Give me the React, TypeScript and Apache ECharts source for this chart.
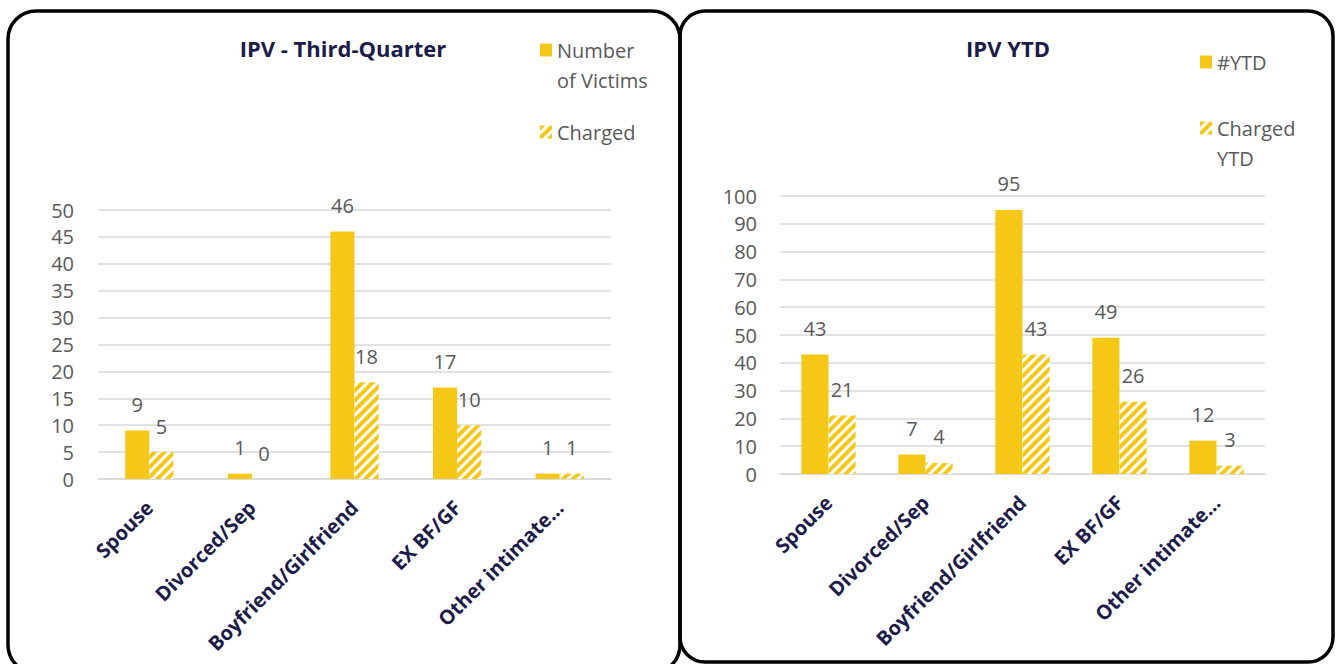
import React, { useEffect, useRef } from "react";
import * as echarts from "echarts";

const categories = ["Spouse", "Divorced/Sep", "Boyfriend/Girlfriend", "EX BF/GF", "Other intimate…"];
const q3Victims = [9, 1, 46, 17, 1];
const q3Charged = [5, 0, 18, 10, 1];
const ytdVictims = [43, 7, 95, 49, 12];
const ytdCharged = [21, 4, 43, 26, 3];

const titles = ["IPV - Third-Quarter", "IPV YTD"];
const seriesNames = ["Number of Victims", "Charged", "#YTD", "Charged YTD"];
const legendLabels: Record<string, string> = {
  "Number of Victims": "\nNumber\nof Victims",
  Charged: "Charged",
  "#YTD": "#YTD",
  "Charged YTD": "\nCharged\nYTD",
};

const YELLOW = "#F5C818";
const NAVY = "#1C1B4A";
const GRAY = "#595959";
const GRID = "#D9D9D9";
const FONT = "Open Sans";

const hatch = {
  symbol: "rect",
  symbolSize: 1,
  color: YELLOW,
  dashArrayX: [1, 0],
  dashArrayY: [4, 3],
  rotation: -Math.PI / 4,
};

function xAxis(gridIndex: number) {
  return {
    type: "category",
    gridIndex,
    data: categories,
    axisLine: { show: true, lineStyle: { color: GRID, width: 1.5 } },
    axisTick: { show: false },
    axisLabel: {
      interval: 0,
      rotate: 45,
      margin: 25,
      fontFamily: FONT,
      fontSize: 20,
      fontWeight: "bold",
      color: NAVY,
    },
  };
}

function yAxis(gridIndex: number, max: number, interval: number, margin: number) {
  return {
    type: "value",
    gridIndex,
    min: 0,
    max,
    interval,
    axisLine: { show: false },
    axisTick: { show: false },
    splitLine: { lineStyle: { color: GRID, width: 1.5 } },
    axisLabel: { margin, fontFamily: FONT, fontSize: 20, color: GRAY },
  };
}

function label() {
  return { show: true, position: "top", distance: 16, fontFamily: FONT, fontSize: 20, color: GRAY };
}

function legend(name: string, left: number, top: number) {
  return {
    data: [name],
    left,
    top,
    padding: 0,
    icon: "rect",
    itemWidth: 12,
    itemHeight: 13,
    selectedMode: false,
    formatter: (n: string) => legendLabels[n],
    textStyle: {
      fontFamily: FONT,
      fontSize: 20,
      color: GRAY,
      lineHeight: 30,
    },
  };
}

export default function App() {
  const ref = useRef<HTMLDivElement>(null);
  useEffect(() => {
    if (!ref.current) return;
    const chart = echarts.init(ref.current, null, { renderer: "svg" });
    chart.setOption({
      animation: false,
      backgroundColor: "#fff",
      title: [
        {
          text: titles[0],
          left: 343,
          top: 36,
          textAlign: "center",
          padding: 0,
          textStyle: { fontFamily: FONT, fontSize: 22, fontWeight: "bold", color: NAVY, lineHeight: 24 },
        },
        {
          text: titles[1],
          left: 1008,
          top: 36,
          textAlign: "center",
          padding: 0,
          textStyle: { fontFamily: FONT, fontSize: 22, fontWeight: "bold", color: NAVY, lineHeight: 24 },
        },
      ],
      legend: [
        legend(seriesNames[0], 540, 5),
        legend(seriesNames[1], 540, 117),
        legend(seriesNames[2], 1200, 47),
        legend(seriesNames[3], 1200, 83),
      ],
      grid: [
        { left: 98, top: 210, width: 513, height: 269, outerBoundsMode: "none" },
        { left: 780, top: 196, width: 485, height: 278, outerBoundsMode: "none" },
      ],
      xAxis: [xAxis(0), xAxis(1)],
      yAxis: [yAxis(0, 50, 5, 24), yAxis(1, 100, 10, 23)],
      series: [
        {
          name: seriesNames[0],
          type: "bar",
          xAxisIndex: 0,
          yAxisIndex: 0,
          data: q3Victims,
          barGap: "0%",
          barCategoryGap: "53%",
          itemStyle: { color: YELLOW },
          label: label(),
        },
        {
          name: seriesNames[1],
          type: "bar",
          xAxisIndex: 0,
          yAxisIndex: 0,
          data: q3Charged,
          barGap: "0%",
          barCategoryGap: "53%",
          itemStyle: { color: "#fff", decal: hatch },
          label: label(),
        },
        {
          name: seriesNames[2],
          type: "bar",
          xAxisIndex: 1,
          yAxisIndex: 1,
          data: ytdVictims,
          barGap: "0%",
          barCategoryGap: "44%",
          itemStyle: { color: YELLOW },
          label: label(),
        },
        {
          name: seriesNames[3],
          type: "bar",
          xAxisIndex: 1,
          yAxisIndex: 1,
          data: ytdCharged,
          barGap: "0%",
          barCategoryGap: "44%",
          itemStyle: { color: "#fff", decal: hatch },
          label: label(),
        },
      ],
      graphic: [
        {
          type: "rect",
          silent: true,
          shape: { x: 8, y: 11, width: 672, height: 662, r: 28 },
          style: { fill: "none", stroke: "#000", lineWidth: 3.5 },
        },
        {
          type: "rect",
          silent: true,
          shape: { x: 680, y: 11, width: 653, height: 651, r: 25 },
          style: { fill: "none", stroke: "#000", lineWidth: 3.5 },
        },
      ],
    });
    return () => chart.dispose();
  }, []);
  return (
    <div
      ref={ref}
      style={{ position: "absolute", left: 0, top: 0, width: 1336, height: 664 }}
    />
  );
}
